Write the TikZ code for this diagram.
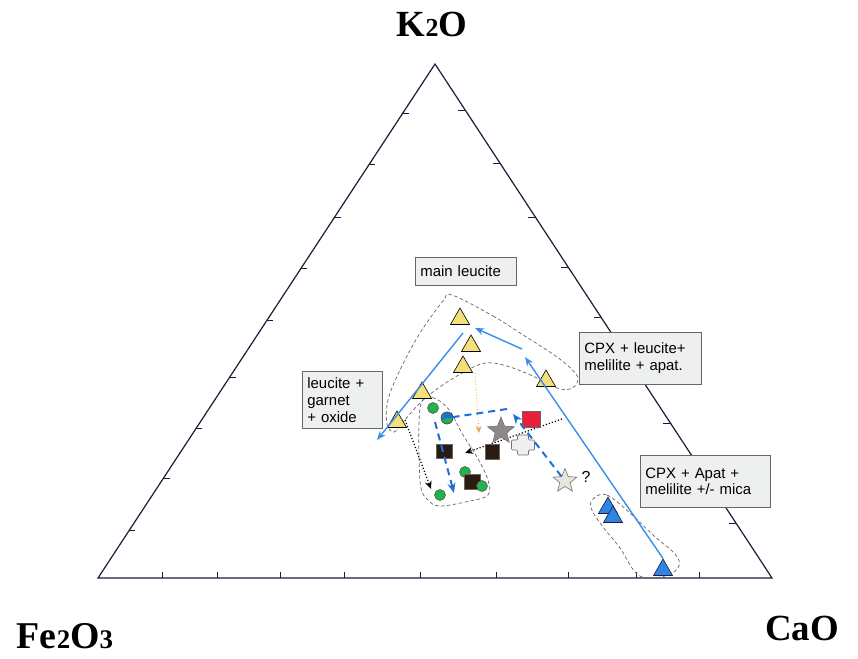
\documentclass[tikz,border=0pt]{standalone}
\usepackage{fontspec}
\setmainfont{Liberation Serif}
\setsansfont{Liberation Sans}
\usetikzlibrary{shapes.geometric,arrows.meta}
\definecolor{ytri}{HTML}{F3E07C}
\definecolor{btri}{HTML}{2F86E2}
\definecolor{bsolid}{HTML}{3A8EE8}
\definecolor{bdash}{HTML}{1F6FD8}
\definecolor{gcirc}{HTML}{24B24C}
\definecolor{redsq}{HTML}{E8203A}
\definecolor{dsq}{HTML}{2B1A10}
\definecolor{boxfill}{HTML}{EEF0F0}
\definecolor{frame}{HTML}{1C1C3A}
\definecolor{orng}{HTML}{F4A050}
\definecolor{gstar}{HTML}{8E8888}
\definecolor{lstar}{HTML}{E6E6DA}
\begin{document}
\begin{tikzpicture}[x=1bp,y=-1bp,
  ytr/.style={regular polygon, regular polygon sides=3, draw=black, line width=0.6bp, fill=ytri, minimum size=22bp, inner sep=0pt},
  btr/.style={regular polygon, regular polygon sides=3, draw=frame, line width=0.6bp, fill=btri, minimum size=22bp, inner sep=0pt},
  gdot/.style={circle, draw=black!70, line width=0.5bp, fill=gcirc, minimum size=11bp, inner sep=0pt},
  dsqr/.style={rectangle, draw=black!60, line width=0.5bp, fill=dsq, minimum width=15bp, minimum height=15bp, inner sep=0pt},
  lbl/.style={draw=black!60, line width=0.7bp, fill=boxfill, font=\sffamily\fontsize{15}{17}\selectfont, align=left, anchor=north west, inner xsep=5bp, inner ysep=4bp},
  envl/.style={draw=black!60, dash pattern=on 3.5bp off 2.5bp, line width=0.7bp},
  solidarr/.style={bsolid, line width=1.4bp, -{Stealth[length=9bp,width=7bp]}},
  dasharr/.style={bdash, line width=2bp, dash pattern=on 7bp off 5bp, -{Stealth[length=10bp,width=8bp]}},
  dashline/.style={bdash, line width=2bp, dash pattern=on 7bp off 5bp},
  dotarr/.style={black, line width=1.2bp, dotted, -{Stealth[length=8bp,width=7bp]}},
  orarr/.style={orng, line width=0.8bp, dotted, -{Stealth[length=7bp,width=6bp]}},
  frm/.style={frame, line width=1.2bp},
  tick/.style={frame, line width=0.8bp},
  head/.style={font=\bfseries\fontsize{37}{37}\selectfont, anchor=base, inner sep=0pt}
]
\fill[white] (0,0) rectangle (858,659);
\useasboundingbox (0,0) rectangle (858,659);

% frame triangle
\coordinate (A) at (435,64);
\coordinate (L) at (98,578);
\coordinate (R) at (772,578);
\draw[frm, line join=miter] (A) -- (L) -- (R) -- cycle;

% ticks
\foreach \x in {162,217,280,344,420,496,568,636,699}
  \draw[tick] (\x,578) -- ++(0,-6);
\foreach \y in {113,164,217,268,320,377,428,478,530}
  \draw[tick] ({435-0.6556*(\y-64)},\y) -- ++(6,0);
\foreach \y in {110,163,217,267,317,370,423,475,523}
  \draw[tick] ({435+0.6556*(\y-64)},\y) -- ++(-7,0);

% envelopes
\draw[envl] plot[smooth cycle, tension=0.6] coordinates {
  (452,295) (493,316) (520,333) (557,357) (576,374) (577,383) (570,389) (557,388)
  (537,378) (513,368) (493,363) (478,365) (457,376) (437,389) (420,403) (403,422)
  (394,432) (387,424) (388,400) (400,370) (420,333) (443,301)};
\draw[envl] plot[smooth cycle, tension=0.6] coordinates {
  (427,397) (438,400) (450,411) (463,435) (477,457) (488,480) (488,495) (470,501)
  (440,506) (428,500) (421,488) (419,457) (419,423) (421,404)};
\draw[envl] plot[smooth cycle, tension=0.6] coordinates {
  (594,498) (607,495) (630,513) (653,535) (675,554) (679,566) (668,575) (648,578)
  (635,572) (620,548) (603,527) (591,508)};

% named free ends
\coordinate (ra1) at (525,357);
\coordinate (ra2) at (522,349);
\coordinate (ra3) at (475,328);
\coordinate (la1) at (463,333);
\coordinate (la2) at (377,440);
\coordinate (da1) at (513,414);
\coordinate (da2) at (507,409);
\coordinate (da3) at (454,493);
\coordinate (da4) at (435,422);
\coordinate (dt1) at (562,419);
\coordinate (dt2) at (465,453);
\coordinate (dt3) at (431,489);
\coordinate (dt4) at (405,420);
\coordinate (or1) at (475,373);
\coordinate (or2) at (479,433);

% markers
\node[ytr] (t1) at (460,319) {};
\node[ytr] (t2) at (471,346) {};
\node[ytr] (t3) at (463,367) {};
\node[ytr] (t4) at (546,381) {};
\node[ytr] (t5) at (422,393) {};
\node[ytr] (t6) at (397,422) {};
\node[btr] (b1) at (608,508) {};
\node[btr] (b2) at (613,517) {};
\node[btr] (b3) at (663,570) {};

% solid blue arrows
\draw[solidarr] (b3.north) -- (ra1);
\draw[solidarr] (ra2) -- (ra3);
\draw[solidarr] (la1) -- (la2);

% dotted arrows
\draw[dotarr] (dt1) -- (dt2);
\draw[dotarr] (dt4) -- (dt3);
\draw[orarr] (or1) -- (or2);

\node[gdot] (g1) at (433,408) {};
\node[gdot] (g2) at (465,472) {};
\node[dsqr, minimum width=16bp] (s3) at (472,482) {};
\node[gdot] (g3) at (482,486) {};
\node[gdot] (g4) at (440,495) {};
\node[dsqr, minimum width=16bp, minimum height=14bp] (s1) at (444,451) {};
\node[dsqr, minimum width=14bp] (s2) at (492,452) {};
\node[rectangle, draw=black!60, line width=0.5bp, fill=redsq, minimum width=18bp, minimum height=16bp, inner sep=0pt] (rs) at (531,419) {};
\node[star, star points=5, star point ratio=2.3, draw=black!55, line width=0.6bp, fill=gstar, minimum size=28bp, inner sep=0pt] (gs) at (501,431) {};
\coordinate (cr) at (523,445);
\draw[draw=black!55, line width=0.7bp, fill=boxfill, rounded corners=1bp, shift={(cr)}]
  (-5.5,-10) -- (5.5,-10) -- (5.5,-5) -- (11.5,-5) -- (11.5,5) -- (5.5,5) -- (5.5,10)
  -- (-5.5,10) -- (-5.5,5) -- (-11.5,5) -- (-11.5,-5) -- (-5.5,-5) -- cycle;
\node[star, star points=5, star point ratio=2.3, draw=black!55, line width=0.6bp, fill=lstar, minimum size=25bp, inner sep=0pt] (ls) at (565,481) {};
\node[font=\sffamily\fontsize{16}{16}\selectfont] (q) at (586,477) {?};
\node[circle, fill=gcirc, draw=black!70, line width=0.5bp, minimum size=12bp, inner sep=0pt] (bg) at (447,418) {};
\fill[bdash] (bg.center) -- (bg.east) arc[start angle=0, end angle=200, radius=5.5bp] -- cycle;
\draw[black!70, line width=0.5bp] (bg) circle[radius=6bp];

% dashed blue arrows
\draw[dasharr] (ls) -- (da1);
\draw[dashline] (da2) -- (bg);
\draw[dasharr] (da4) -- (da3);

% label boxes
\node[lbl, text width=91bp, minimum height=28bp] (mainl) at (415,257) {main leucite};
\node[lbl, text width=70bp, minimum height=57bp] (lgo) at (302,371) {leucite +\\garnet\\+ oxide};
\node[lbl, text width=112bp, minimum height=52bp] (cpx1) at (579,332) {CPX + leucite+\\melilite + apat.};
\node[lbl, text width=120bp, minimum height=52bp] (cpx2) at (640,455) {CPX + Apat +\\melilite +/- mica};

% corner headings
\node[head] (k2o) at (432,37) {K{\fontsize{26}{26}\selectfont 2}O};
\node[head, font=\bfseries\fontsize{38}{38}\selectfont] (fe) at (65,648) {Fe{\fontsize{27}{27}\selectfont 2}O{\fontsize{27}{27}\selectfont 3}};
\node[head] (cao) at (802,640) {CaO};
\end{tikzpicture}
\end{document}
